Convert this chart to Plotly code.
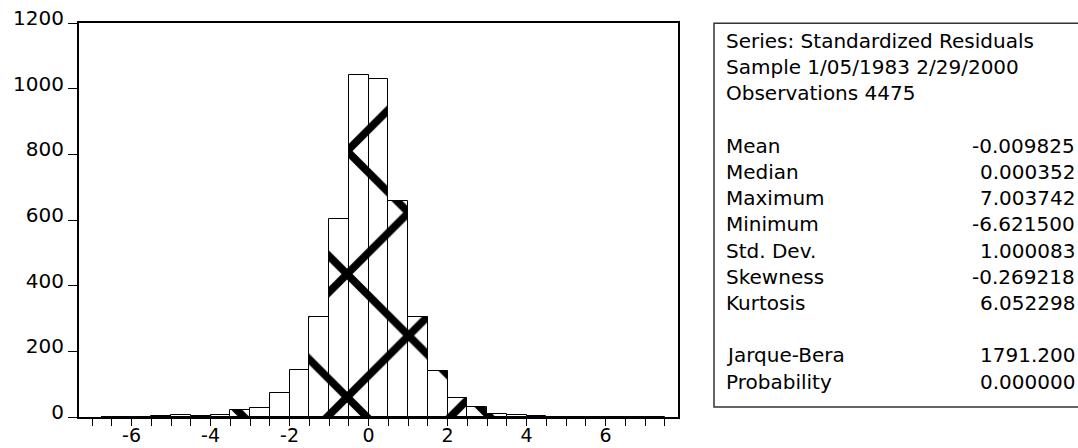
import plotly.graph_objects as go

# ---------------- data ----------------
bin_centers = [-6.75, -6.25, -5.75, -5.25, -4.75, -4.25, -3.75, -3.25, -2.75, -2.25,
               -1.75, -1.25, -0.75, -0.25, 0.25, 0.75, 1.25, 1.75, 2.25, 2.75,
               3.25, 3.75, 4.25, 4.75, 5.25, 5.75, 6.25, 6.75, 7.25]
counts = [1, 1, 1, 2, 5, 3, 6, 22, 26, 73,
          142, 305, 603, 1042, 1028, 658, 305, 141, 59, 31,
          10, 6, 2, 1, 0, 0, 1, 0, 1]
bin_width = 0.5

stat_labels = ["Mean", "Median", "Maximum", "Minimum", "Std. Dev.", "Skewness", "Kurtosis",
               "", "Jarque-Bera", "Probability"]
stat_values = ["-0.009825", "0.000352", "7.003742", "-6.621500", "1.000083", "-0.269218",
               "6.052298", "", "1791.200", "0.000000"]
header_lines = ["Series: Standardized Residuals", "Sample 1/05/1983 2/29/2000", "Observations 4475"]

x_ticks = [-6, -4, -2, 0, 2, 4, 6]
x_ticktext = ["-6", "-4", "-2", "0", "2", "4", "6"]
y_ticks = [0, 200, 400, 600, 800, 1000, 1200]

# ---------------- layout geometry ----------------
W, H = 1078, 448
L, T, R, B = 79, 23, 400, 31
PW = W - L - R
PH = H - T - B
X_RANGE = [-7.33, 7.835]
Y_RANGE = [0, 1200]
FONT = dict(family="DejaVu Sans, Arial, sans-serif", size=20, color="black")
XFONT = dict(family="DejaVu Sans, Arial, sans-serif", size=19, color="black")

# shift of the hatch pattern phase (pixels) by offsetting the bar subplot
DX, DY = 22, 5
x_per_px = (X_RANGE[1] - X_RANGE[0]) / PW
y_per_px = (Y_RANGE[1] - Y_RANGE[0]) / PH


def px_x(px):
    return (px - L) / PW


def px_y(py):
    return (H - B - py) / PH


fig = go.Figure()
# empty trace so the framed main axes are drawn
fig.add_trace(go.Scatter(x=[None], y=[None], xaxis="x", yaxis="y", mode="markers",
                         showlegend=False, hoverinfo="skip"))
fig.add_trace(go.Bar(
    x=bin_centers, y=counts, width=bin_width,
    xaxis="x2", yaxis="y2",
    marker=dict(color="white", line=dict(color="black", width=1),
                pattern=dict(shape="x", size=87, solidity=0.17,
                             fgcolor="black", bgcolor="white", fillmode="replace")),
    showlegend=False, hoverinfo="x+y",
))

axis_common = dict(showline=True, mirror=True, linecolor="black", linewidth=2,
                   showgrid=False, zeroline=False, ticks="outside", tickcolor="black",
                   tickwidth=1, automargin=False)

fig.update_layout(
    width=W, height=H,
    margin=dict(l=L, r=R, t=T, b=B, pad=0, autoexpand=False),
    paper_bgcolor="white", plot_bgcolor="rgba(0,0,0,0)",
    font=FONT,
    xaxis=dict(range=X_RANGE, domain=[0, 1], anchor="y", tickmode="array",
               tickvals=x_ticks, ticktext=x_ticktext, ticklen=7, ticklabelstandoff=-7,
               tickfont=XFONT,
               minor=dict(ticks="outside", tick0=0, dtick=0.5, ticklen=7, tickcolor="black",
                          tickwidth=1, showgrid=False),
               **axis_common),
    yaxis=dict(range=Y_RANGE, domain=[0, 1], anchor="x", tickmode="array", tickvals=y_ticks,
               ticklen=9, ticklabelshift=-5, tickfont=FONT, **axis_common),
    xaxis2=dict(range=[X_RANGE[0] + DX * x_per_px, X_RANGE[1]], domain=[DX / PW, 1],
                anchor="y2", visible=False, showgrid=False, zeroline=False, automargin=False),
    yaxis2=dict(range=[0, Y_RANGE[1] - DY * y_per_px], domain=[0, 1 - DY / PH],
                anchor="x2", visible=False, showgrid=False, zeroline=False, automargin=False),
    bargap=0,
)

# statistics box
fig.add_shape(type="rect", xref="paper", yref="paper",
              x0=px_x(714), x1=px_x(1090), y0=px_y(407), y1=px_y(23.3),
              line=dict(color="#333333", width=1.5), fillcolor="rgba(0,0,0,0)")

row_h = 26.2
y0 = 41
rows = header_lines + [""] + stat_labels
vals = ["", "", "", ""] + stat_values
for i, (lab, val) in enumerate(zip(rows, vals)):
    yy = px_y(y0 + i * row_h)
    if lab:
        fig.add_annotation(x=px_x(724), y=yy, xref="paper", yref="paper", text=lab,
                           showarrow=False, xanchor="left", yanchor="middle", font=FONT)
    if val:
        fig.add_annotation(x=px_x(1076.5), y=yy, xref="paper", yref="paper", text=val,
                           showarrow=False, xanchor="right", yanchor="middle", font=FONT)

fig.write_html("out.html")
